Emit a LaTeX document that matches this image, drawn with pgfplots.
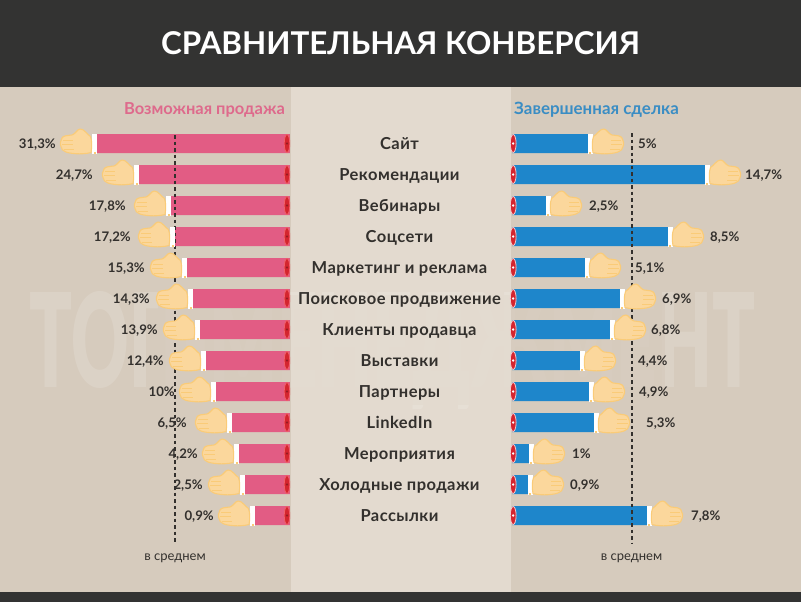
\documentclass[border=0pt]{standalone}
\usepackage{fontspec}
\setmainfont{Lato}
\newfontfamily\wmfont{Lato Black}
\usepackage{pgfplots}
\usepackage{pgfplotstable}
\pgfplotsset{compat=1.18}

\definecolor{band}{HTML}{333332}
\definecolor{side}{HTML}{D6CBBD}
\definecolor{mid}{HTML}{E3DACF}
\definecolor{ink}{HTML}{33302D}
\definecolor{pinkbar}{HTML}{E25C84}
\definecolor{bluebar}{HTML}{1E86CB}
\definecolor{pinkhead}{HTML}{DE6A8C}
\definecolor{bluehead}{HTML}{3A8DC4}
\definecolor{skin}{HTML}{FBD79C}
\definecolor{skinline}{HTML}{FACB78}
\definecolor{capred}{HTML}{D4252F}
\definecolor{caprim}{HTML}{F0606A}

% y is the row centre in pixels, bar the drawn length in pixels, labx where the label sits
\pgfplotstableread[col sep=semicolon]{
y;bar;labx;lab
143.5;194;234;31,3
174.5;152;197;24,7
205.5;120;164;17,8
236.5;116;159;17,2
267.5;104;145;15,3
298.5;98;140;14,3
329.5;91;132;13,9
360.5;85;126;12,4
391.5;75;115;10
422.5;59;103;6,5
453.5;52;92;4,2
484.5;46;87;2,5
515.5;36;76;0,9
}\ldata

\pgfplotstableread[col sep=semicolon]{
y;bar;labx;lab
143.5;76;126;5
174.5;193;233;14,7
205.5;34;77;2,5
236.5;156;198;8,5
267.5;73;123;5,1
298.5;108;150;6,9
329.5;98;139;6,8
360.5;68;126;4,4
391.5;77;127;4,9
422.5;82;134;5,3
453.5;17;60;1
484.5;16;58;0,9
515.5;135;179;7,8
}\rdata

\pgfplotstableread[col sep=semicolon]{
y;x;name
143.5;108.5;Сайт
174.5;108.5;Рекомендации
205.5;108.5;Вебинары
236.5;108.5;Соцсети
267.5;108.5;Маркетинг и реклама
298.5;108.5;Поисковое продвижение
329.5;108.5;Клиенты продавца
360.5;108.5;Выставки
391.5;108.5;Партнеры
422.5;108.5;LinkedIn
453.5;108.5;Мероприятия
484.5;108.5;Холодные продажи
515.5;108.5;Рассылки
}\cdata

\newcommand\handshape{%
  \fill[white] (0pt,-9.5pt) rectangle (4pt,9.5pt);
  \fill[skinline] (1pt,-9.5pt) rectangle (2pt,-8.5pt);
  \filldraw[fill=skin,draw=skinline,line width=1.1pt,line join=round]
    (5pt,-9pt) .. controls (4pt,-4pt) and (4pt,3pt) .. (5.5pt,7pt)
    .. controls (9pt,9pt) and (12pt,15pt) .. (16pt,14.5pt)
    .. controls (19pt,14pt) and (20pt,10pt) .. (24pt,8.5pt)
    .. controls (28pt,8pt) and (33pt,8pt) .. (34pt,5.5pt)
    .. controls (36pt,3pt) and (36pt,-1pt) .. (35pt,-3pt)
    .. controls (34.5pt,-6pt) and (33pt,-7pt) .. (31pt,-8pt)
    .. controls (28pt,-10pt) and (14pt,-11.5pt) .. (5pt,-9pt) -- cycle;
  \draw[skinline,line width=.5pt] (23pt,3.5pt) -- (33pt,3.5pt)
    (23pt,-1pt) -- (34pt,-1pt) (22pt,-5.5pt) -- (32pt,-5.5pt);
}
\pgfdeclareplotmark{handR}{\handshape}
\pgfdeclareplotmark{handL}{\pgftransformxscale{-1}\handshape}
\pgfdeclareplotmark{capL}{%
  \filldraw[fill=capred,draw=caprim,line width=.9pt] (-3pt,0pt) ellipse (2.8pt and 9pt);
  \fill[capred!70!black] (-3pt,0pt) circle (.9pt);
}
\pgfdeclareplotmark{capR}{%
  \filldraw[fill=capred,draw=white!75!capred,line width=.8pt] (1.2pt,0pt) ellipse (2.9pt and 9pt);
  \fill[white] (1.2pt,0pt) circle (1pt);
}

\pgfplotsset{
  panel/.style={hide axis,scale only axis,clip=false,height=602pt,
    ymin=0,ymax=602,y dir=reverse,anchor=south west},
  rowlabel/.style={only marks,mark=none,nodes near coords={#1},point meta=explicit symbolic},
}

\begin{document}
\begin{tikzpicture}[x=1pt,y=1pt]
\useasboundingbox (0,0) rectangle (801,-602);
\fill[side] (0,0) rectangle (801,-602);
\fill[mid] (291,-87) rectangle (511,-592);
\node[anchor=center,opacity=.14,text=white] at (392.5,-351)
  {\resizebox{725pt}{96pt}{\wmfont ТОП-МЕНЕДЖМЕНТ}};
% the middle of the watermark is nearly rubbed out in the original
\fill[side,opacity=.75] (158,-295) rectangle (291,-405);
\fill[mid,opacity=.7] (291,-295) rectangle (511,-405);
\fill[side,opacity=.75] (511,-295) rectangle (665,-405);
\fill[band] (0,0) rectangle (801,-87);
\fill[band] (0,-592) rectangle (801,-602);
\node[text=white,font=\fontsize{31.4}{36}\selectfont\bfseries] at (400.5,-43.5) {СРАВНИТЕЛЬНАЯ КОНВЕРСИЯ};
\node[anchor=base east,inner sep=0pt,text=pinkhead,font=\fontsize{16.5}{18}\selectfont\bfseries] at (285,-114) {Возможная продажа};
\node[anchor=base west,inner sep=0pt,text=bluehead,font=\fontsize{16.9}{18}\selectfont\bfseries] at (514,-114) {Завершенная сделка};

% left side, bars grow leftwards from x=290
\begin{axis}[panel,at={(0pt,-602pt)},width=290pt,xmin=0,xmax=290,x dir=reverse,
  every node near coord/.append style={inner sep=0pt,yshift=-5pt,text=ink,
    font=\fontsize{13.2}{15}\selectfont\bfseries},
  nodes near coords align={anchor=base east}]
  \addplot[xbar,bar shift=0pt,bar width=19pt,fill=pinkbar,draw=none] table[x=bar,y=y]{\ldata};
  \addplot[only marks,mark=handL] table[x=bar,y=y]{\ldata};
  \addplot[only marks,mark=capL] table[x expr=0,y=y]{\ldata};
  \addplot[ink,line width=2pt,dash pattern=on 3.5pt off 3pt] coordinates {(115,135) (115,543)};
  \addplot[rowlabel={\pgfplotspointmeta\%}] table[x=labx,y=y,meta=lab]{\ldata};
\end{axis}

% right side, bars grow rightwards from x=512
\begin{axis}[panel,at={(512pt,-602pt)},width=289pt,xmin=0,xmax=289,
  every node near coord/.append style={inner sep=0pt,yshift=-5pt,text=ink,
    font=\fontsize{13.2}{15}\selectfont\bfseries},
  nodes near coords align={anchor=base west}]
  \addplot[xbar,bar shift=0pt,bar width=19pt,fill=bluebar,draw=none] table[x=bar,y=y]{\rdata};
  \addplot[only marks,mark=handR] table[x=bar,y=y]{\rdata};
  \addplot[only marks,mark=capR] table[x expr=0,y=y]{\rdata};
  \addplot[ink,line width=2pt,dash pattern=on 3.5pt off 3pt] coordinates {(120,133) (120,543)};
  \addplot[rowlabel={\pgfplotspointmeta\%}] table[x=labx,y=y,meta=lab]{\rdata};
\end{axis}

% category names in the middle column
\begin{axis}[panel,at={(291pt,-602pt)},width=220pt,xmin=0,xmax=220,
  every node near coord/.append style={inner sep=0pt,yshift=-5.5pt,text=ink,
    font=\fontsize{16.5}{18}\selectfont\bfseries\addfontfeature{LetterSpace=2.8}},
  nodes near coords align={anchor=base}]
  \addplot[rowlabel={\pgfplotspointmeta}] table[x=x,y=y,meta=name]{\cdata};
\end{axis}

\node[text=ink,font=\fontsize{13}{15}\selectfont] at (175,-558) {в среднем};
\node[text=ink,font=\fontsize{13}{15}\selectfont] at (631.5,-558) {в среднем};
\end{tikzpicture}
\end{document}
